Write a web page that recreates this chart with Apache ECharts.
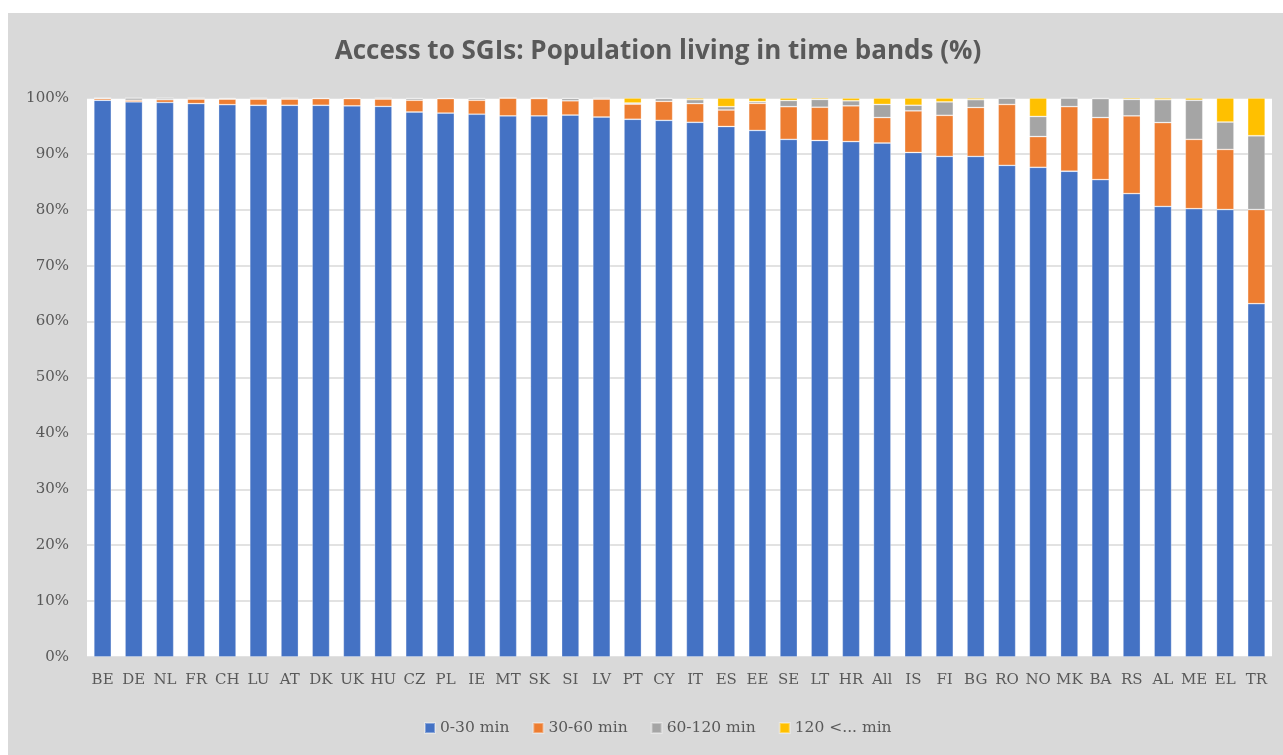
<!DOCTYPE html>
<html>
<head>
<meta charset="utf-8">
<script src="https://cdn.jsdelivr.net/npm/echarts@6/dist/echarts.min.js"></script>
<style>
  html, body { margin: 0; padding: 0; background: #ffffff; }
  #wrap { position: absolute; left: 8px; top: 13px; width: 1275px; height: 742px; background: #d9d9d9; }
  #chart { width: 1275px; height: 742px; }
</style>
</head>
<body>
<div id="wrap"><div id="chart"></div></div>
<script>
const categories = ['BE','DE','NL','FR','CH','LU','AT','DK','UK','HU','CZ','PL','IE','MT','SK','SI','LV','PT','CY','IT','ES','EE','SE','LT','HR','All','IS','FI','BG','RO','NO','MK','BA','RS','AL','ME','EL','TR'];
const band0to30 = [99.6,99.3,99.2,99.0,98.8,98.7,98.7,98.7,98.6,98.5,97.5,97.3,97.1,96.8,96.8,96.95,96.6,96.2,96.0,95.65,94.9,94.2,92.6,92.4,92.2,91.95,90.25,89.55,89.55,87.95,87.6,86.9,85.4,82.9,80.6,80.2,80.05,63.2];
const band30to60 = [0.3,0.3,0.5,0.8,1.0,1.1,1.1,1.2,1.3,1.3,2.1,2.6,2.5,3.2,3.1,2.55,3.2,2.7,3.4,3.35,2.95,4.85,5.85,5.95,6.4,4.55,7.45,7.35,8.75,10.9,5.5,11.55,11.1,13.9,15.0,12.4,10.75,16.85];
const band60to120 = [0.1,0.4,0.3,0.2,0.1,0.2,0.2,0.0,0.0,0.2,0.3,0.0,0.3,0.0,0.1,0.4,0.2,0.2,0.5,0.7,0.6,0.3,1.1,1.4,0.9,2.35,1.0,2.4,1.4,1.1,3.6,1.55,3.4,2.95,4.1,7.0,4.9,13.2];
const band120plus = [0,0,0,0,0.1,0,0,0.1,0.1,0,0.1,0.1,0.1,0,0,0.1,0,0.9,0.1,0.3,1.55,0.65,0.45,0.25,0.5,1.15,1.3,0.7,0.3,0.05,3.3,0,0.1,0.25,0.3,0.4,4.3,6.75];
const seriesNames = ['0-30 min','30-60 min','60-120 min','120 <... min'];
const yTicks = [0,10,20,30,40,50,60,70,80,90,100];
const colors = ['#4472C4','#ED7D31','#A5A5A5','#FFC000'];

const chart = echarts.init(document.getElementById('chart'), null, {renderer: 'canvas'});
const serifFont = '"DejaVu Serif", serif';
const dataSets = [band0to30, band30to60, band60to120, band120plus];

chart.setOption({
  backgroundColor: '#d9d9d9',
  animation: false,
  title: {
    text: 'Access to SGIs: Population living in time bands (%)',
    left: 645,
    textAlign: 'center',
    top: 21,
    textStyle: { fontFamily: '"Open Sans", sans-serif', fontWeight: 'bold', fontSize: 26, color: '#595959' }
  },
  legend: {
    left: 411,
    top: 702,
    itemWidth: 10,
    itemHeight: 10,
    itemGap: 23,
    icon: 'rect',
    textStyle: { fontFamily: serifFont, fontSize: 15.5, color: '#595959' },
    data: seriesNames
  },
  grid: { left: 79, right: 11, top: 85, bottom: 98, show: true, backgroundColor: '#ffffff', borderWidth: 0 },
  xAxis: {
    type: 'category',
    data: categories,
    axisTick: { show: false },
    axisLine: { lineStyle: { color: '#d9d9d9', width: 1 } },
    axisLabel: { fontFamily: serifFont, fontSize: 15, color: '#595959', margin: 16, interval: 0 }
  },
  yAxis: {
    type: 'value',
    min: yTicks[0],
    max: yTicks[yTicks.length - 1],
    interval: 10,
    axisLine: { show: false },
    axisTick: { show: false },
    splitLine: { lineStyle: { color: '#d9d9d9', width: 1.5 } },
    axisLabel: { fontFamily: serifFont, fontSize: 15, color: '#595959', margin: 18, formatter: '{value}%' }
  },
  series: seriesNames.map((name, i) => ({
    name: name,
    type: 'bar',
    stack: 'total',
    barWidth: 17.5,
    data: dataSets[i],
    itemStyle: { color: colors[i], borderColor: 'rgba(255,255,255,0.35)', borderWidth: 0.8 }
  }))
});
</script>
</body>
</html>
